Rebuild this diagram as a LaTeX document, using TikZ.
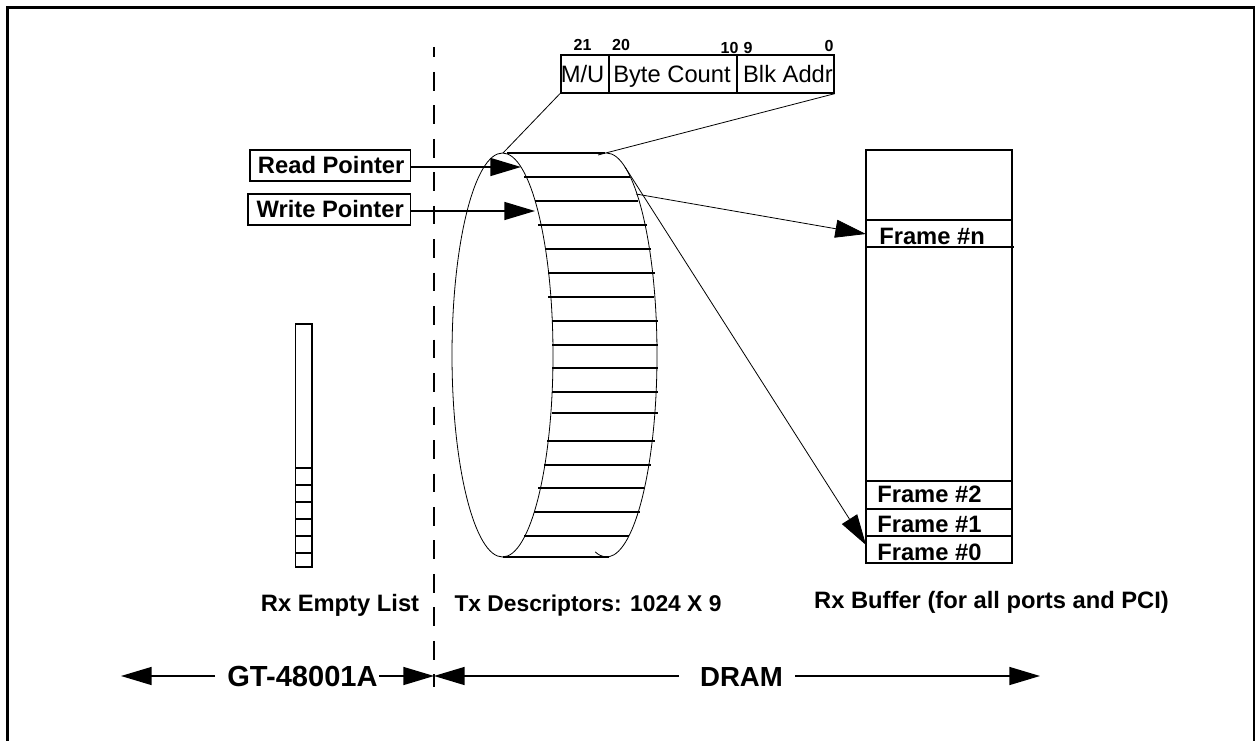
\documentclass[tikz,border=0pt]{standalone}
\usepackage{fontspec}
\setmainfont{Liberation Sans}
\usepackage{tikz}
\usetikzlibrary{
    arrows.meta,
    calc
}
\tikzset
{
  lbl/.style={font=\bfseries\fontsize{17.8}{20}\selectfont,inner sep=0pt},
  extent/.style={font=\bfseries\fontsize{21.8}{23}\selectfont,inner sep=0pt,anchor=base},
  bitlbl/.style={font=\bfseries\fontsize{12}{14}\selectfont,inner sep=0pt,anchor=base},
  field/.style={font=\fontsize{17.8}{20}\selectfont,inner sep=0pt,anchor=base},
  ptrbox/.style={draw,line width=1.25pt,font=\bfseries\fontsize{17.8}{20}\selectfont,inner sep=0pt,minimum height=23pt,text depth=1.5pt,anchor=west},
  bigarrow/.style={line width=1.1pt,-{Triangle[length=23pt,width=13.5pt]}},
  thinarrow/.style={line width=0.6pt,-{Triangle[length=23pt,width=13.5pt]}},
  rule/.style={line width=1.2pt},
  curve/.style={line width=0.6pt}
}

\begin{document}
\begin{tikzpicture}[x=0.75pt,y=-0.75pt]
        \useasboundingbox (0,0) rectangle (1255,741);

        % Page frame
        \draw[line width=2pt] (7.3,741) -- (7.3,7.3) -- (1254,7.3) -- (1254,741);

        % Divider
        \draw[line width=1.15pt,dash pattern=on 14pt off 11.1pt,dash phase=6.4pt] (434,47) -- (434,687);

        % Descriptor ring
        \draw[curve] (502.5,355) ellipse [x radius=50.5,y radius=202];
        \draw[curve] (606.5,153) arc [start angle=-90,end angle=103,x radius=50.5,y radius=202];
        \foreach \y/\xa/\xb in {153/507/605,177/524/630,201/535/638,225/538/647,249/545/651,273/548/655,297/548/654,321/552/658,345/552/658,368/552/658,392/552/658,413/552/658,441/547/655,465/544/651,488/538/644,512/534/640,536/524/629,557/503/609}
            \draw[rule] (\xa,\y) -- (\xb,\y);

        % Descriptor fields
        \node[draw,line width=1.2pt,minimum width=205pt,minimum height=28.5pt,inner sep=0pt,anchor=north west] (word) at (560,54) {};
        \draw[rule] (609,54) -- (609,93);
        \draw[rule] (737,54) -- (737,92);
        \node[field] (mu) at (582.5,83) {M/U};
        \node[field] (bytecnt) at (672,83) {Byte Count};
        \node[field] (blkaddr) at (788,83) {Blk Addr};
        \node[bitlbl] (b21) at (582.5,51) {21};
        \node[bitlbl] (b20) at (621,51) {20};
        \node[bitlbl] (b10) at (729.5,54) {10};
        \node[bitlbl] (b9) at (748,54) {9};
        \node[bitlbl] (b0) at (829,52) {0};
        \coordinate (ringtl) at (503,153);
        \coordinate (ringtr) at (598,155);
        \draw[curve] (word.south west) -- (ringtl);
        \draw[curve] (word.south east) -- (ringtr);

        % Pointers
        \node[ptrbox,minimum width=120.5pt] (rdptr) at (249,165.5) {\hspace*{1.5pt}Read Pointer};
        \node[ptrbox,minimum width=122pt] (wrptr) at (247,209.5) {\hspace*{1.5pt}Write Pointer};
        \coordinate (rdtip) at (521,167);
        \coordinate (wrtip) at (535,211);
        \draw[bigarrow] (rdptr.east |- rdtip) -- (rdtip);
        \draw[bigarrow] (wrptr.east |- wrtip) -- (wrtip);

        % Rx Empty list
        \draw[rule] (295.5,324) rectangle (312,567);
        \foreach \y in {468,485,502,519,536,553}
            \draw[rule] (295.5,\y) -- (312,\y);

        % Rx Buffer
        \draw[rule] (866,150) rectangle (1012,563);
        \draw[rule] (866,220) -- (1012,220);
        \draw[rule] (866,247) -- (1014,247);
        \draw[rule] (866,481) -- (1012,481);
        \draw[rule] (866,509) -- (1012,509);
        \draw[rule] (866,536) -- (1012,536);
        \node[lbl,anchor=base west] (frmn) at (879,245) {Frame \#n};
        \node[lbl,anchor=base west] (frm2) at (877,502) {Frame \#2};
        \node[lbl,anchor=base west] (frm1) at (877,532) {Frame \#1};
        \node[lbl,anchor=base west] (frm0) at (877,560) {Frame \#0};
        \coordinate (dscA) at (636,194);
        \coordinate (dscB) at (625,167);
        \coordinate (frmntip) at (866,234);
        \coordinate (frm0tip) at (866,545);
        \draw[thinarrow] (dscA) -- (frmntip);
        \draw[thinarrow] (dscB) -- (frm0tip);

        % Captions
        \node[lbl,anchor=base] (emptycap) at (340,611) {Rx Empty List};
        \node[lbl,anchor=base,font=\bfseries\fontsize{17.1}{20}\selectfont] (desccap) at (588,611) {Tx Descriptors: 1024 X 9};
        \node[lbl,anchor=base] (bufcap) at (991.5,608) {Rx Buffer (for all ports and PCI)};

        % Extents
        \node[extent] (gt) at (302.5,686) {GT-48001A};
        \node[extent,font=\bfseries\fontsize{20.7}{23}\selectfont] (dram) at (741.5,686) {DRAM};
        \coordinate (gtleft) at (121,676);
        \coordinate (divpt) at (434,676);
        \coordinate (dramright) at (1040,676);
        \draw[bigarrow] (215,676) -- (gtleft);
        \draw[bigarrow] (379,676) -- (divpt);
        \draw[bigarrow] (679,676) -- (divpt);
        \draw[bigarrow] (795,676) -- (dramright);
    \end{tikzpicture}
\end{document}
